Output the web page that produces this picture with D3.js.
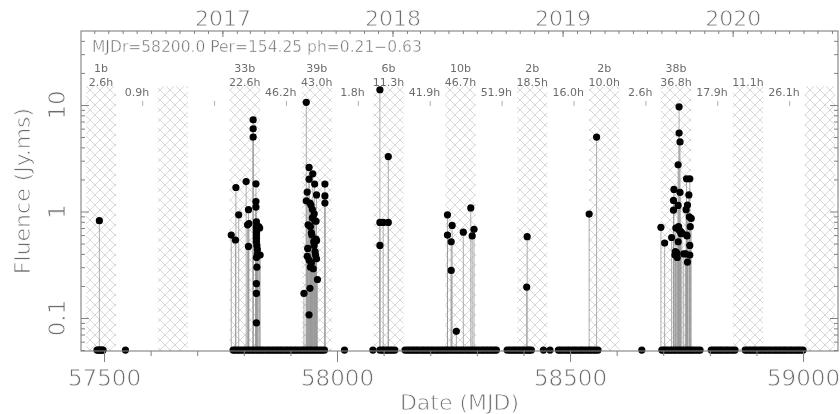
<!DOCTYPE html>
<html>
<head>
<meta charset="utf-8">
<script src="https://cdn.jsdelivr.net/npm/d3@7"></script>
<style>
  body { margin: 0; background: #fff; }
  svg { will-change: transform; opacity: 0.999; }
  text { font-family: "DejaVu Sans", sans-serif; fill: #6c6c6c; }
  .thin { stroke: #fff; stroke-width: 0.8px; }
</style>
</head>
<body>
<script>
// ephemeris used for the activity windows
var mjdRef = 58200.0, period = 154.25, phStart = 0.21, phEnd = 0.63;

// windows (cycle numbers relative to mjdRef) and the numbers written above them
var cycles = [-5, -4, -3, -2, -1, 0, 1, 2, 3, 4, 5];
var burstCounts = [1, null, 33, 39, 6, 10, 2, 2, 38, null, null];
var windowHours = [2.6, null, 22.6, 43.0, 11.3, 46.7, 18.5, 10.0, 36.8, 11.1, null];
// hours observed between window n and window n+1
var gapHours = [0.9, null, 46.2, 1.8, 41.9, 51.9, 16.0, 2.6, 17.9, 26.1];

var yearLabels = ['2017', '2018', '2019', '2020'];
var xTicks = [57500, 58000, 58500, 59000];
var yTicks = [0.1, 1, 10];

// detected bursts: [MJD, fluence Jy.ms]
var bursts = [
  [57490, 0.82],
  // cycle -3
  [57773, 0.60], [57782, 0.54], [57783, 1.68], [57789, 0.93], [57805, 1.91], [57810, 1.04],
  [57808, 0.75], [57811, 0.77], [57810, 0.47], [57820, 7.26], [57820, 5.98], [57820, 5.0],
  [57826, 1.82], [57826, 1.24], [57826, 1.10], [57827, 0.80], [57827, 0.72], [57827, 0.68],
  [57827, 0.64], [57827, 0.60], [57827, 0.56], [57827, 0.52], [57828, 0.48], [57829, 0.44],
  [57834, 0.70], [57835, 0.39], [57827, 0.37], [57828, 0.30], [57827, 0.21], [57827, 0.17],
  [57827, 0.09], [57829, 0.40], [57832, 0.72],
  // cycle -2
  [57934, 10.6], [57940, 2.59], [57948, 2.26], [57940, 2.01], [57952, 1.81], [57936, 1.52],
  [57956, 1.43], [57974, 1.81], [57974, 1.40], [57974, 1.20], [57934, 1.26], [57942, 1.20],
  [57944, 1.15], [57947, 0.87], [57952, 0.82], [57955, 0.81], [57943, 0.72], [57945, 0.63],
  [57956, 0.53], [57950, 0.52], [57937, 0.45], [57936, 0.38], [57954, 0.39], [57956, 0.36],
  [57940, 0.35], [57945, 0.33], [57949, 0.29], [57958, 0.23], [57942, 0.19], [57929, 0.17],
  [57940, 0.107], [57946, 0.60], [57951, 0.95], [57938, 0.75], [57953, 0.42], [57947, 1.05],
  [57951, 0.48], [57943, 0.30], [57955, 0.55],
  // cycle -1
  [58092, 13.9], [58092, 0.79], [58092, 0.48], [58099, 0.79], [58110, 0.79], [58110, 3.28],
  // cycle 0
  [58237, 0.93], [58247, 0.74], [58237, 0.60], [58245, 0.52], [58245, 0.28], [58256, 0.075],
  [58271, 0.64], [58287, 1.08], [58294, 0.68], [58290, 0.59],
  // cycle 1
  [58408, 0.58], [58407, 0.195],
  // cycle 2
  [58541, 0.945], [58557, 5.0],
  // cycle 3
  [58734, 9.6], [58734, 5.45], [58736, 4.5], [58732, 2.74], [58750, 2.03], [58757, 2.03],
  [58723, 1.61], [58736, 1.51], [58722, 1.27], [58732, 1.14], [58752, 1.15], [58722, 1.03],
  [58749, 1.04], [58755, 1.43], [58756, 0.89], [58760, 0.86], [58758, 0.72], [58695, 0.71],
  [58727, 0.70], [58734, 0.67], [58737, 0.65], [58703, 0.505], [58718, 0.57], [58750, 0.60],
  [58732, 0.52], [58725, 0.39], [58730, 0.37], [58748, 0.40], [58757, 0.39], [58752, 0.335],
  [58757, 0.48], [58729, 0.41], [58740, 0.63], [58733, 0.72], [58726, 0.42], [58744, 0.40],
  [58751, 0.59], [58738, 0.62]
];

// observing epochs with no detection (plotted at the lower limit)
var noDetect = [
  57485, 57488, 57490, 57493, 57496, 57498, 57546,
  57777, 57781, 57786, 57790, 57795, 57800, 57804, 57809, 57813, 57818, 57822, 57827, 57831,
  57836, 57840, 57845, 57850, 57854, 57859, 57863, 57868, 57872, 57877, 57881, 57886, 57891,
  57895, 57900, 57904, 57909, 57913, 57918, 57923, 57927, 57932, 57936, 57941, 57945, 57950,
  57955, 57959, 57964, 57968, 57973,
  58016, 58077,
  58092, 58097, 58101, 58106, 58110, 58115, 58119, 58124,
  58146, 58151, 58155, 58160, 58164, 58169, 58173, 58178, 58183, 58187, 58192, 58196, 58201,
  58205, 58210, 58215, 58219, 58224, 58228, 58233, 58237, 58242, 58247, 58251, 58256, 58260,
  58265, 58269, 58274, 58279, 58283, 58288, 58292, 58297, 58301, 58306, 58311, 58315, 58320,
  58324, 58329, 58333, 58338, 58342,
  58365, 58370, 58374, 58379, 58383, 58388, 58392, 58397, 58401, 58406, 58410, 58413, 58417,
  58443, 58457,
  58475, 58479, 58484, 58489, 58494, 58498, 58503, 58508, 58512, 58517, 58522, 58526, 58531,
  58536, 58541, 58545, 58550, 58555, 58560,
  58654,
  58697, 58701, 58706, 58710, 58715, 58719, 58724, 58728, 58733, 58737, 58742, 58746, 58751,
  58755, 58760, 58764, 58769, 58774, 58779,
  58803, 58807, 58812, 58816, 58821, 58825, 58830, 58835, 58839, 58844, 58849, 58854,
  58876, 58880, 58885, 58889, 58894, 58898, 58903, 58908, 58912, 58917, 58921, 58926, 58930,
  58935, 58940, 58944, 58949, 58953, 58958, 58962, 58967, 58972, 58976, 58981, 58986, 58990,
  58995, 59000
];
var lowLimit = 0.05;

var svg = d3.select("body").append("svg")
    .attr("width", 840)
    .attr("height", 414);

var m = {left: 81, right: 838, top: 31, bottom: 351};

var x = d3.scaleLinear().domain([57450.6, 59075]).range([m.left, m.right]);
var y = d3.scaleLog().domain([0.049, 49.5]).range([m.bottom, m.top]);

function mjdToDate(d) { return new Date(Date.UTC(1858, 10, 17) + d * 86400000); }
var xt = d3.scaleUtc().domain(x.domain().map(mjdToDate)).range([m.left, m.right]);

// hatch pattern
var defs = svg.append("defs");
defs.append("pattern")
    .attr("id", "hatch")
    .attr("patternUnits", "userSpaceOnUse")
    .attr("width", 10).attr("height", 10)
  .append("path")
    .attr("d", "M0,0L10,10M10,0L0,10")
    .attr("stroke", "#cdcdcd")
    .attr("stroke-width", 0.8);
defs.append("clipPath").attr("id", "plotclip")
  .append("rect").attr("x", m.left).attr("y", m.top)
    .attr("width", m.right - m.left).attr("height", m.bottom - m.top);

var winStart = function (n) { return mjdRef + (n + phStart) * period; };
var winEnd = function (n) { return mjdRef + (n + phEnd) * period; };

svg.append("g").attr("clip-path", "url(#plotclip)")
  .selectAll("rect")
  .data(cycles)
  .enter()
  .append("rect")
    .attr("x", function (n) { return x(winStart(n)); })
    .attr("width", function (n) { return x(winEnd(n)) - x(winStart(n)); })
    .attr("y", y(15))
    .attr("height", m.bottom - y(15))
    .attr("fill", "url(#hatch)");

// labels above the windows
var labG = svg.append("g").style("font-size", "11px").attr("text-anchor", "middle");
cycles.forEach(function (n, i) {
  var cx = x((winStart(n) + winEnd(n)) / 2);
  if (burstCounts[i] != null) {
    labG.append("text").attr("x", cx).attr("y", 72).text(burstCounts[i] + "b");
  }
  if (windowHours[i] != null) {
    labG.append("text").attr("x", cx).attr("y", 86).text(windowHours[i].toFixed(1) + "h");
  }
});
gapHours.forEach(function (h, i) {
  var n = cycles[i];
  var gx = x((winEnd(n) + winStart(n + 1)) / 2);
  if (h != null) {
    labG.append("text").attr("x", gx).attr("y", 96).text(h.toFixed(1) + "h");
  }
  svg.append("line")
    .attr("x1", x(mjdRef + (n + 1) * period)).attr("x2", x(mjdRef + (n + 1) * period))
    .attr("y1", 101).attr("y2", 106)
    .attr("stroke", "#b0b0b0");
});

// stems and points
svg.append("g").selectAll("line")
  .data(bursts)
  .enter()
  .append("line")
    .attr("x1", function (d) { return x(d[0]); })
    .attr("x2", function (d) { return x(d[0]); })
    .attr("y1", y(lowLimit))
    .attr("y2", function (d) { return y(d[1]); })
    .attr("stroke", "#999")
    .attr("stroke-width", 0.8);

svg.append("g").selectAll("circle")
  .data(noDetect)
  .enter()
  .append("circle")
    .attr("cx", function (d) { return x(d); })
    .attr("cy", y(lowLimit))
    .attr("r", 3.6)
    .attr("fill", "#000");

svg.append("g").selectAll("circle")
  .data(bursts)
  .enter()
  .append("circle")
    .attr("cx", function (d) { return x(d[0]); })
    .attr("cy", function (d) { return y(d[1]); })
    .attr("r", 3.6)
    .attr("fill", "#000");

// frame
var axisCol = "#808080";
svg.append("rect")
    .attr("x", m.left).attr("y", m.top)
    .attr("width", m.right - m.left).attr("height", m.bottom - m.top)
    .attr("fill", "none").attr("stroke", axisCol).attr("stroke-width", 1.1);

function styleAxis(g) {
  g.select(".domain").remove();
  g.selectAll(".tick line").attr("stroke", axisCol);
  g.selectAll("text").attr("font-family", null).attr("font-size", null).attr("fill", null)
    .attr("class", "thin");
}

// bottom axis
svg.append("g").attr("transform", "translate(0," + m.bottom + ")")
    .call(d3.axisBottom(x).tickValues(d3.range(57500, 59001, 100)).tickSize(5).tickFormat(""))
    .call(styleAxis);
svg.append("g").attr("transform", "translate(0," + m.bottom + ")")
    .call(d3.axisBottom(x).tickValues(xTicks).tickSize(11).tickPadding(8).tickFormat(d3.format("d")))
    .call(styleAxis)
    .selectAll("text").style("font-size", "23px");

// top axis: months and years
svg.append("g").attr("transform", "translate(0," + m.top + ")")
    .call(d3.axisTop(xt).ticks(d3.utcMonth.every(1)).tickSize(-3).tickFormat(""))
    .call(styleAxis);
svg.append("g").attr("transform", "translate(0," + m.top + ")")
    .call(d3.axisTop(xt).ticks(d3.utcYear.every(1)).tickSize(-6).tickPadding(5)
      .tickFormat(function (d, i) { return yearLabels[i]; }))
    .call(styleAxis)
    .selectAll("text").style("font-size", "22px");

// y axes
var minorY = [];
[0.01, 0.1, 1, 10].forEach(function (dec) {
  for (var k = 2; k <= 9; k++) {
    var v = dec * k;
    if (v >= 0.049 && v <= 49.5) minorY.push(v);
  }
});
[[d3.axisLeft, m.left], [d3.axisRight, m.right]].forEach(function (a) {
  svg.append("g").attr("transform", "translate(" + a[1] + ",0)")
      .call(a[0](y).tickValues(minorY).tickSize(-4).tickFormat(""))
      .call(styleAxis);
  svg.append("g").attr("transform", "translate(" + a[1] + ",0)")
      .call(a[0](y).tickValues(yTicks).tickSize(-8).tickFormat(""))
      .call(styleAxis);
});
svg.append("g").selectAll("text")
  .data(yTicks)
  .enter()
  .append("text")
    .attr("class", "thin")
    .attr("transform", function (d) { return "translate(57," + y(d) + ") rotate(-90)"; })
    .attr("text-anchor", "middle")
    .attr("dy", "0.36em")
    .style("font-size", "23px")
    .text(function (d) { return d; });

// titles
svg.append("text")
    .attr("class", "thin")
    .attr("transform", "translate(22," + ((m.top + m.bottom) / 2) + ") rotate(-90)")
    .attr("text-anchor", "middle")
    .attr("dy", "0.36em")
    .style("font-size", "22px")
    .text("Fluence (Jy.ms)");

svg.append("text")
    .attr("class", "thin")
    .attr("x", (m.left + m.right) / 2)
    .attr("y", 410)
    .attr("text-anchor", "middle")
    .style("font-size", "22px")
    .text("Date (MJD)");

svg.append("text")
    .attr("class", "thin")
    .style("stroke-width", "0.5px")
    .attr("x", 92)
    .attr("y", 52)
    .style("font-size", "15.5px")
    .text("MJDr=" + mjdRef.toFixed(1) + " Per=" + period.toFixed(2) + " ph=" + phStart.toFixed(2) + "\u2212" + phEnd.toFixed(2));
</script>
</body>
</html>
